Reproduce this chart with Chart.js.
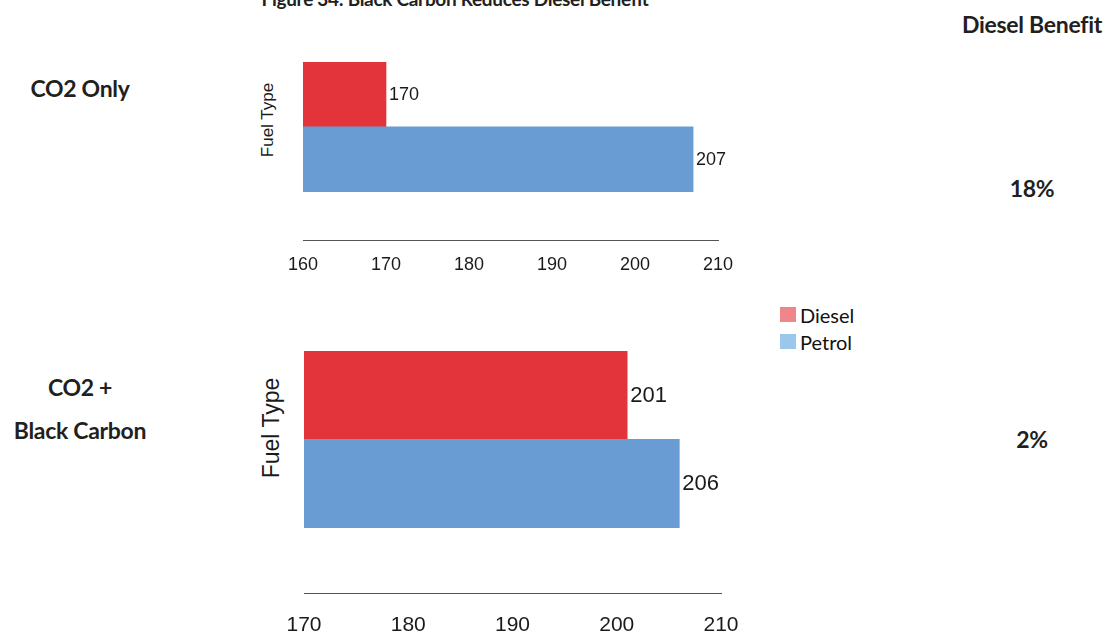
<!DOCTYPE html>
<html>
<head>
<meta charset="utf-8">
<script src="https://cdn.jsdelivr.net/npm/chart.js@4/dist/chart.umd.min.js"></script>
<style>
  html, body { margin: 0; padding: 0; background: #fff; width: 1108px; height: 637px; overflow: hidden; position: relative; }
  .lbl { position: absolute; white-space: nowrap; color: #231f20; font-family: Lato, "Open Sans", sans-serif; font-weight: 700; line-height: 1; transform: translate(-50%, -50%); letter-spacing: -0.3px; }
  .axis-title { position: absolute; white-space: nowrap; color: #1a1a1a; font-family: "Liberation Sans", Arial, sans-serif; line-height: 1; transform: translate(-50%, -50%) rotate(-90deg); }
  .legend { position: absolute; left: 780px; top: 301px; font-family: Lato, "Open Sans", sans-serif; font-size: 20px; color: #111; }
  .legend div { height: 27px; display: flex; align-items: center; }
  .legend span.sw { display: inline-block; width: 16px; height: 15px; margin-right: 4px; }
  canvas { position: absolute; }
</style>
</head>
<body>
<div class="lbl" id="title" style="left:455px; top:-2px; font-size:19px;"></div>
<div class="lbl" id="benefitHead" style="left:1032px; top:24px; font-size:23px;"></div>
<div class="lbl" id="panel0" style="left:80px; top:88px; font-size:23px;"></div>
<div class="lbl" id="panel1a" style="left:80px; top:387px; font-size:23px;"></div>
<div class="lbl" id="panel1b" style="left:80px; top:430px; font-size:23px;"></div>
<div class="lbl" id="benefit0" style="left:1032px; top:188px; font-size:23px;"></div>
<div class="lbl" id="benefit1" style="left:1032px; top:439px; font-size:23px;"></div>
<div class="axis-title" id="yTitle0" style="left:267px; top:120px; font-size:17px;"></div>
<div class="axis-title" id="yTitle1" style="left:271px; top:428px; font-size:23px;"></div>
<div class="legend" id="legend"></div>

<canvas id="co2Chart" width="475" height="260" style="left:273px; top:40px;"></canvas>
<canvas id="bcChart" width="491" height="327" style="left:267px; top:330px;"></canvas>

<script>
// Fuel categories and emission values (g/km) for each panel
const fuelTypes = ['Diesel', 'Petrol'];
const co2Only = [170, 207];
const co2PlusBlackCarbon = [201, 206];

// Axis tick values for each panel
const co2OnlyTicks = [160, 170, 180, 190, 200, 210];
const co2PlusBlackCarbonTicks = [170, 180, 190, 200, 210];

// Headline and side labels
const chartTitle = 'Figure 34: Black Carbon Reduces Diesel Benefit';
const benefitHeading = 'Diesel Benefit';
const dieselBenefit = ['18%', '2%'];
const panelNames = [['CO2 Only'], ['CO2 +', 'Black Carbon']];
const yAxisTitle = 'Fuel Type';

// Colours
const barColors = ['#e3343c', '#689cd3'];
const legendColors = ['#f0858b', '#9cc7ec'];

// Text blocks
document.getElementById('title').textContent = chartTitle;
document.getElementById('benefitHead').textContent = benefitHeading;
document.getElementById('panel0').textContent = panelNames[0][0];
document.getElementById('panel1a').textContent = panelNames[1][0];
document.getElementById('panel1b').textContent = panelNames[1][1];
document.getElementById('benefit0').textContent = dieselBenefit[0];
document.getElementById('benefit1').textContent = dieselBenefit[1];
document.getElementById('yTitle0').textContent = yAxisTitle;
document.getElementById('yTitle1').textContent = yAxisTitle;

const legend = document.getElementById('legend');
fuelTypes.forEach((name, i) => {
  const row = document.createElement('div');
  const sw = document.createElement('span');
  sw.className = 'sw';
  sw.style.background = legendColors[i];
  row.appendChild(sw);
  row.appendChild(document.createTextNode(name));
  legend.appendChild(row);
});

// Writes each bar's value just past its end
const valueLabels = {
  id: 'valueLabels',
  afterDatasetsDraw(chart, args, opts) {
    const ctx = chart.ctx;
    const meta = chart.getDatasetMeta(0);
    const data = chart.data.datasets[0].data;
    ctx.save();
    ctx.font = opts.size + 'px "Liberation Sans", Arial, sans-serif';
    ctx.fillStyle = '#1a1a1a';
    ctx.textAlign = 'left';
    ctx.textBaseline = 'middle';
    meta.data.forEach((bar, i) => {
      ctx.fillText(String(data[i].x), bar.x + opts.gap, bar.y + 1);
    });
    ctx.restore();
  }
};

function buildPanel(canvasId, values, ticks, cfg) {
  return new Chart(document.getElementById(canvasId), {
    type: 'bar',
    data: {
      datasets: [{
        label: yAxisTitle,
        data: values.map((v, i) => ({ x: v, y: i })),
        backgroundColor: barColors,
        borderWidth: 0,
        categoryPercentage: 1,
        barPercentage: 1
      }]
    },
    plugins: [valueLabels],
    options: {
      indexAxis: 'y',
      responsive: false,
      maintainAspectRatio: false,
      animation: false,
      events: [],
      layout: { padding: cfg.padding },
      plugins: {
        legend: { display: false },
        tooltip: { enabled: false },
        valueLabels: { size: cfg.valueSize, gap: 3 }
      },
      scales: {
        x: {
          type: 'linear',
          position: 'bottom',
          min: ticks[0],
          max: ticks[ticks.length - 1],
          afterBuildTicks: s => { s.ticks = ticks.map(v => ({ value: v })); },
          grid: { display: false, drawTicks: false, tickLength: 0 },
          border: { display: true, color: '#555', width: 1 },
          ticks: {
            padding: cfg.tickPadding,
            color: '#1a1a1a',
            maxRotation: 0,
            autoSkip: false,
            font: { family: '"Liberation Sans", Arial, sans-serif', size: cfg.tickSize }
          }
        },
        y: {
          type: 'linear',
          position: 'left',
          reverse: true,
          offset: false,
          min: -0.5,
          max: 2.25,
          display: true,
          grid: { display: false, drawTicks: false, tickLength: 0 },
          border: { display: false },
          ticks: { display: false },
          afterBuildTicks: s => { s.ticks = values.map((v, i) => ({ value: i })); }
        }
      }
    }
  });
}

buildPanel('co2Chart', co2Only, co2OnlyTicks, {
  padding: { top: 22, bottom: 10, left: 30, right: 30 },
  tickPadding: 14, tickSize: 18, valueSize: 18
});

buildPanel('bcChart', co2PlusBlackCarbon, co2PlusBlackCarbonTicks, {
  padding: { top: 21, bottom: 0, left: 37, right: 37 },
  tickPadding: 19, tickSize: 21, valueSize: 22
});
</script>
</body>
</html>
